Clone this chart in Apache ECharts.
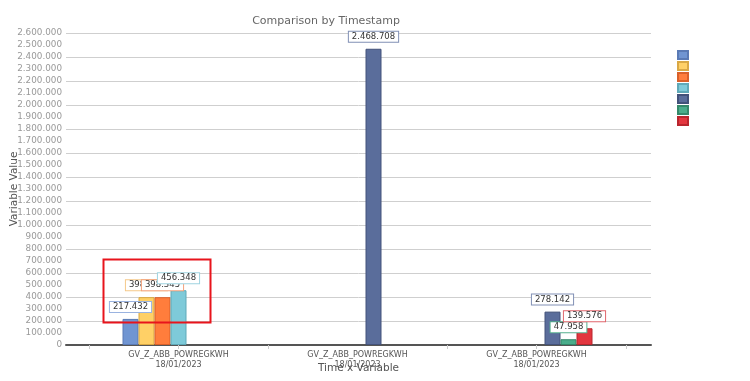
<!DOCTYPE html>
<html>
<head>
<meta charset="utf-8">
<script src="https://cdn.jsdelivr.net/npm/echarts@6/dist/echarts.min.js"></script>
<style>
html,body{margin:0;padding:0;background:#fff;}
#chart{width:750px;height:381px;}
</style>
</head>
<body>
<div id="chart"></div>
<script>
var categories = ['GV_Z_ABB_POWREGKWH\n18/01/2023', 'GV_Z_ABB_POWREGKWH\n18/01/2023', 'GV_Z_ABB_POWREGKWH\n18/01/2023'];
var seriesNames = ['S1', 'S2', 'S3', 'S4', 'S5', 'S6', 'S7'];
var s1 = [217432, null, null];
var s2 = [398871, null, null];
var s3 = [398345, null, null];
var s4 = [456348, null, null];
var s5 = [null, 2468708, 278142];
var s6 = [null, null, 47958];
var s7 = [null, null, 139576];
var seriesValues = [s1, s2, s3, s4, s5, s6, s7];
var yMin = 0, yMax = 2600000, yLabelStep = 100000, yGridStep = 200000;

var colors = ['#7095d2', '#ffd066', '#ff7d3c', '#7ecad9', '#5a6d9b', '#4aad8b', '#e3363f'];
var borders = ['#5a7ab5', '#d9a845', '#d9602a', '#5fa9b8', '#43527a', '#35896b', '#b8262e'];
var labelBorders = ['#9ab3e0', '#f5c98a', '#f4a27c', '#9fd3e0', '#8190b5', '#56b08f', '#e0666c'];

function fmt(v) {
  return String(Math.round(v)).replace(/\B(?=(\d{3})+(?!\d))/g, '.');
}
var FONT = 'DejaVu Sans';

var chart = echarts.init(document.getElementById('chart'));
var series = seriesValues.map(function (vals, i) {
  return {
    name: seriesNames[i],
    type: 'bar',
    xAxisIndex: 0,
    yAxisIndex: 0,
    data: vals,
    barWidth: 16,
    barGap: '0%',
    itemStyle: { color: colors[i], borderColor: borders[i], borderWidth: 1 },
    label: {
      show: true,
      position: 'top',
      distance: 7,
      formatter: function (p) { return fmt(p.value); },
      fontFamily: FONT,
      fontSize: 8.5,
      color: '#333',
      backgroundColor: '#fff',
      borderColor: labelBorders[i],
      borderWidth: 1,
      padding: [0, 3, 0, 3],
      lineHeight: 10
    }
  };
});

var option = {
  animation: false,
  color: colors,
  title: {
    text: 'Comparison by Timestamp',
    left: 321, top: 11, textAlign: 'center',
    textStyle: { fontFamily: FONT, fontSize: 11, fontWeight: 'normal', color: '#666' }
  },
  legend: {
    orient: 'vertical',
    left: 677, top: 50, padding: 0,
    itemWidth: 10, itemHeight: 8, itemGap: 1,
    icon: 'rect',
    formatter: function () { return ''; },
    textStyle: { fontSize: 2, lineHeight: 2 },
    data: seriesNames
  },
  grid: [
    { left: 89, right: 124, top: 33, bottom: 36, outerBoundsMode: 'none', containLabel: false },
    { left: 66, right: 99, top: 33, bottom: 36, outerBoundsMode: 'none', containLabel: false }
  ],
  xAxis: [
    {
      type: 'category', gridIndex: 0, data: categories,
      axisLine: { show: false },
      axisTick: { show: true, length: 4, lineStyle: { color: '#ccc' } },
      axisLabel: { fontFamily: FONT, fontSize: 8, color: '#555', lineHeight: 10, margin: 5 }
    },
    {
      type: 'category', gridIndex: 0, data: categories, position: 'bottom',
      axisLine: { show: false },
      axisTick: { show: true, alignWithLabel: true, length: 4, lineStyle: { color: '#ccc' } },
      axisLabel: { show: false }
    },
    {
      type: 'value', gridIndex: 1, min: 0, max: 1,
      axisLine: { show: true, lineStyle: { color: '#555', width: 2 } },
      axisTick: { show: false }, axisLabel: { show: false }, splitLine: { show: false },
      name: 'Time x Variable', nameLocation: 'middle', nameGap: 18, nameMoveOverlap: false,
      nameTextStyle: { fontFamily: FONT, fontSize: 10.5, color: '#555' }
    }
  ],
  yAxis: [
    { type: 'value', gridIndex: 0, min: yMin, max: yMax, show: false, splitLine: { show: false } },
    {
      type: 'value', gridIndex: 1, min: yMin, max: yMax, interval: yLabelStep,
      axisLine: { show: false }, axisTick: { show: false }, splitLine: { show: false },
      axisLabel: { fontFamily: FONT, fontSize: 8.8, color: '#999', margin: 4, formatter: fmt },
      name: 'Variable Value', nameLocation: 'middle', nameGap: 46, nameMoveOverlap: false,
      nameTextStyle: { fontFamily: FONT, fontSize: 10.5, color: '#555' }
    },
    {
      type: 'value', gridIndex: 1, min: yMin, max: yMax, interval: yGridStep,
      axisLine: { show: false }, axisTick: { show: false }, axisLabel: { show: false },
      splitLine: { show: true, lineStyle: { color: '#cfcfcf', width: 1 } }
    }
  ],
  graphic: [
    {
      type: 'rect', left: 101, top: 257, z: 100,
      shape: { width: 107, height: 63 },
      style: { fill: 'none', stroke: '#e8141c', lineWidth: 2 }
    }
  ],
  series: series
};
chart.setOption(option);
</script>
</body>
</html>
